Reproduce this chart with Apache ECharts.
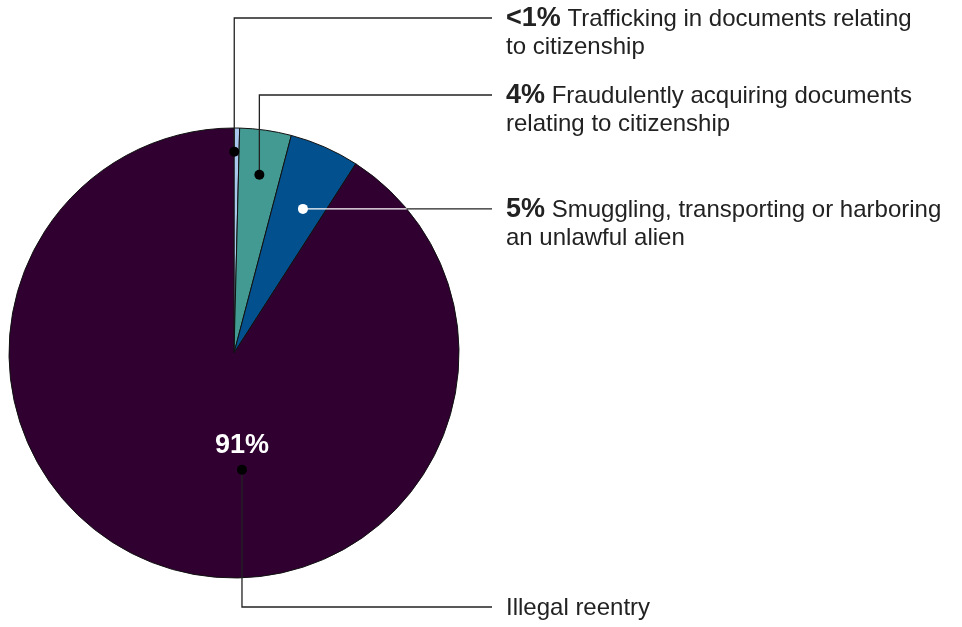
<!DOCTYPE html>
<html>
<head>
<meta charset="utf-8">
<script src="https://cdn.jsdelivr.net/npm/echarts@6/dist/echarts.min.js"></script>
<style>
html,body{margin:0;padding:0;background:#fff;}
#main{width:962px;height:627px;}
</style>
</head>
<body>
<div id="main"></div>
<script>
// Data
const categories = [
  'Trafficking in documents relating to citizenship',
  'Fraudulently acquiring documents relating to citizenship',
  'Smuggling, transporting or harboring an unlawful alien',
  'Illegal reentry'
];
const values = [0.4, 3.7, 5.0, 90.9];
const pctLabels = ['<1%', '4%', '5%', '91%'];
const labelLines = [
  ['Trafficking in documents relating', 'to citizenship'],
  ['Fraudulently acquiring documents', 'relating to citizenship'],
  ['Smuggling, transporting or harboring', 'an unlawful alien'],
  ['Illegal reentry']
];
const colors = ['#a9c6ec', '#429a92', '#03508f', '#2f0030'];

// Layout
const CX = 234, CY = 353, R = 225;
const FONT = '"Liberation Sans", Arial, sans-serif';
// anchor: fraction within slice (0..1), radius fraction; callout target y
const anchors = [
  {f: 0.05, r: 0.895, lineY: 18, dot: '#000', kind: 'up'},
  {f: 0.5, r: 0.80, lineY: 95, dot: '#000', kind: 'up'},
  {f: 0.6, r: 0.71, lineY: null, dot: '#fff', kind: 'right'},
  {f: 0.438, r: 0.52, lineY: 607, dot: '#000', kind: 'down'}
];
const lineEndX = 492, textX = 506;
const NORMAL = '24px ' + FONT, BOLD = 'bold 27px ' + FONT;

const total = values.reduce((a, b) => a + b, 0);
let cum = 0;
const graphics = [];
values.forEach((v, i) => {
  const a = anchors[i];
  const frac = (cum + v * a.f) / total;
  cum += v;
  const ang = frac * 2 * Math.PI; // clockwise from top
  const px = CX + R * a.r * Math.sin(ang);
  const py = CY - R * a.r * Math.cos(ang);
  const lineStyle = {stroke: '#222', lineWidth: 1.3};
  if (a.kind === 'up' || a.kind === 'down') {
    graphics.push({type: 'polyline', z: 10, shape: {points: [[px, py], [px, a.lineY], [lineEndX, a.lineY]]}, style: Object.assign({fill: null}, lineStyle)});
  } else {
    // white inside the pie, dark outside
    const dy = py - CY;
    const edgeX = CX + Math.sqrt(R * R - dy * dy);
    graphics.push({type: 'line', z: 10, shape: {x1: px, y1: py, x2: edgeX, y2: py}, style: {stroke: '#fff', lineWidth: 1.3}});
    graphics.push({type: 'line', z: 10, shape: {x1: edgeX, y1: py, x2: lineEndX, y2: py}, style: lineStyle});
    a.lineY = py;
  }
  graphics.push({type: 'circle', z: 11, shape: {cx: px, cy: py, r: 5}, style: {fill: a.dot}});
  const ty = a.lineY + 1;
  if (i < 3) {
    graphics.push({type: 'text', z: 12, x: textX, y: ty, style: {
      text: '{b|' + pctLabels[i] + '} ' + labelLines[i][0],
      font: NORMAL, fill: '#222', verticalAlign: 'middle',
      rich: {b: {font: BOLD, fill: '#222'}}
    }});
    graphics.push({type: 'text', z: 12, x: textX, y: ty + 28, style: {
      text: labelLines[i][1], font: NORMAL, fill: '#222', verticalAlign: 'middle'
    }});
  } else {
    graphics.push({type: 'text', z: 12, x: textX, y: ty, style: {
      text: labelLines[i][0], font: NORMAL, fill: '#222', verticalAlign: 'middle'
    }});
    graphics.push({type: 'text', z: 12, x: px, y: py - 24, style: {
      text: pctLabels[i], font: BOLD, fill: '#fff', align: 'center', verticalAlign: 'middle'
    }});
  }
});

const chart = echarts.init(document.getElementById('main'), null, {renderer: 'canvas'});
chart.setOption({
  animation: false,
  backgroundColor: '#fff',
  series: [{
    type: 'pie',
    center: [CX, CY],
    radius: [0, R],
    startAngle: 90,
    clockwise: true,
    minAngle: 0,
    avoidLabelOverlap: false,
    label: {show: false},
    labelLine: {show: false},
    itemStyle: {borderColor: '#111', borderWidth: 1},
    emphasis: {disabled: true},
    data: categories.map((c, i) => ({name: c, value: values[i], itemStyle: {color: colors[i]}}))
  }],
  graphic: graphics
});
</script>
</body>
</html>
